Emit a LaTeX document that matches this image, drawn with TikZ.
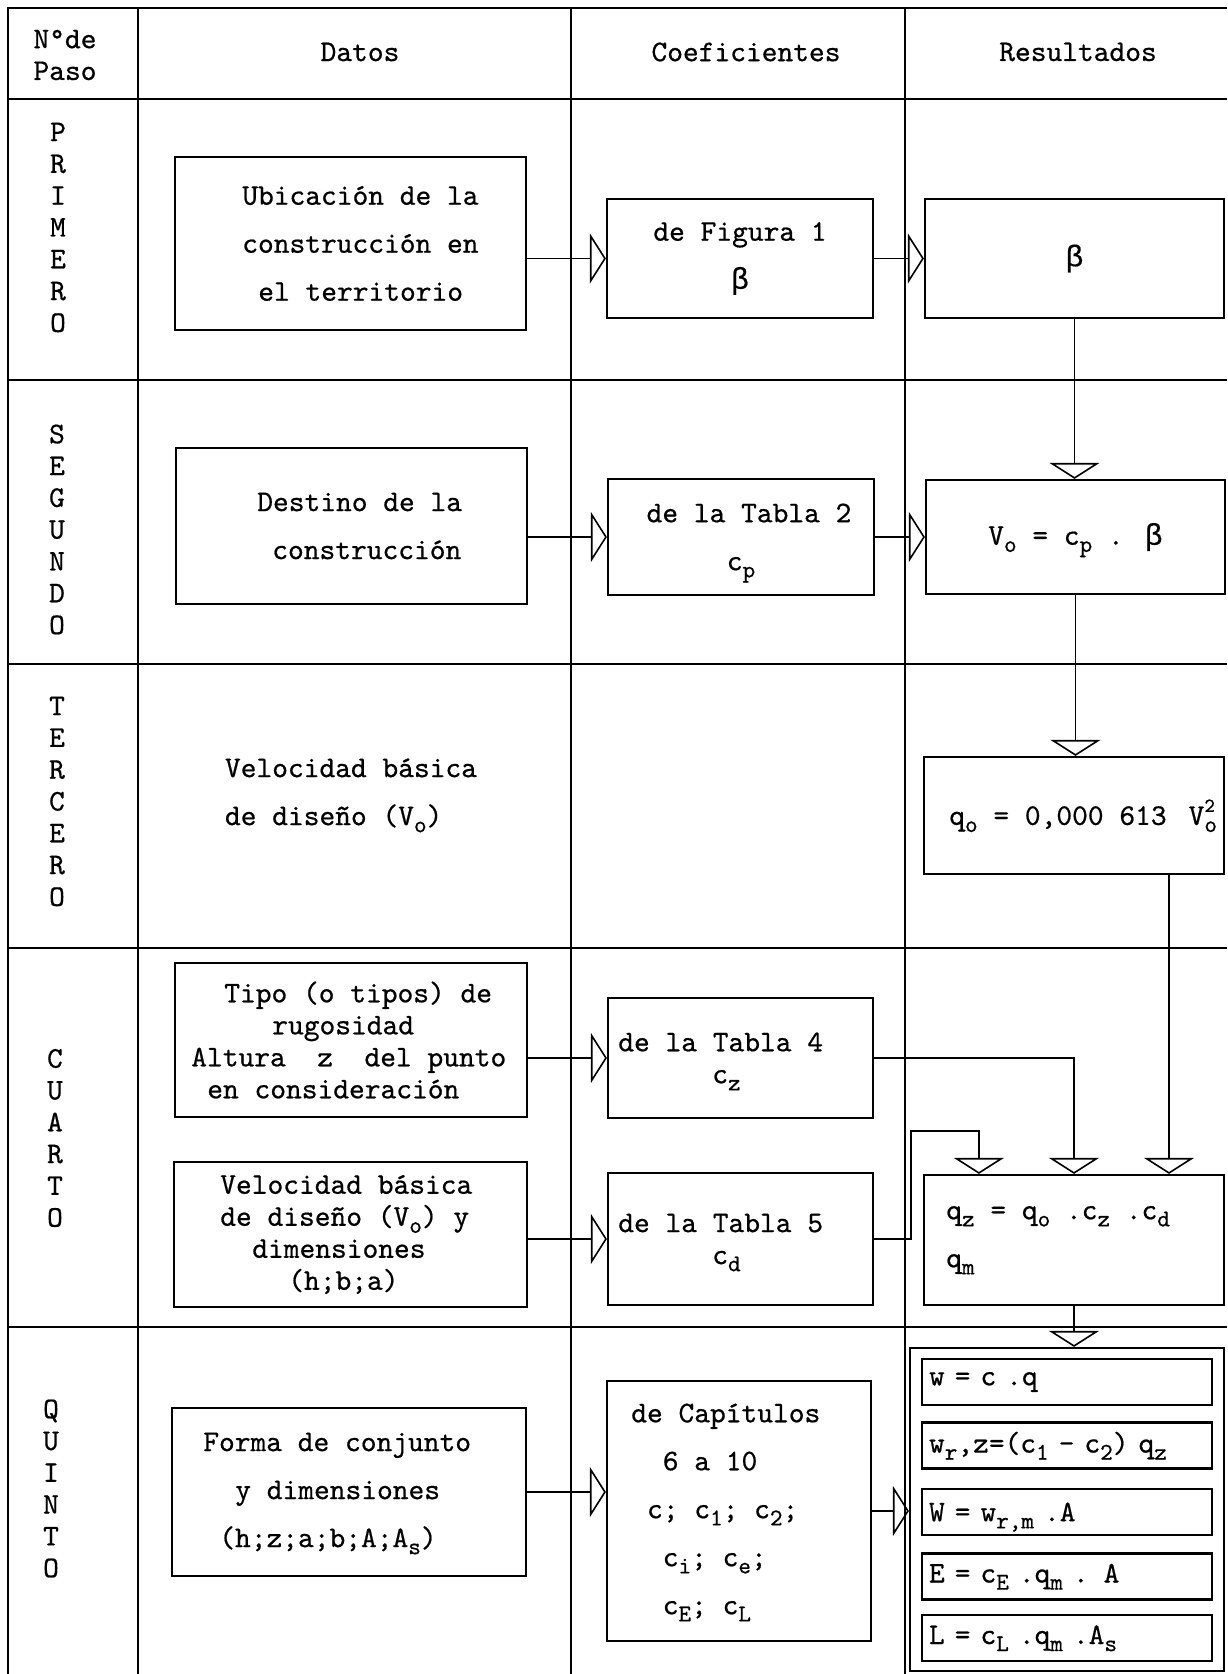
\documentclass[tikz,border=0pt]{standalone}
\usepackage{tikz}
\usepackage{fontspec}
\usetikzlibrary{arrows.meta}
\newfontfamily\twfont{lmmono10-regular.otf}[FakeBold=0.6]
\newfontfamily\greekfont{Liberation Mono}[FakeBold=0.4]
\newcommand{\twsize}[2]{\twfont\fontsize{#1}{#2}\selectfont}
\newcommand{\tsub}[1]{\raisebox{-0.55ex}[0pt][0pt]{\fontsize{12}{12}\selectfont #1}}
\newcommand{\bet}{{\greekfont β}}

\begin{document}
\begin{tikzpicture}[
        font = \twsize{15}{24},
        box/.style = {draw, line width = 1.1pt, inner sep = 0pt, align = center},
        txt/.style = {align = left, anchor = west, inner sep = 0pt},
        dense/.style = {font = \twsize{15}{16}},
        eqbox/.style = {draw, line width = 1.1pt, minimum width = 145pt, minimum height = 23pt,
                        text width = 138pt, inner xsep = 3.5pt, inner ysep = 0pt, align = left},
        steplbl/.style = {align = center, font = \twsize{15}{15.9}},
        grid/.style = {line width = 0.8pt},
        flow/.style = {line width = 0.8pt, -{Triangle[open, length = 8pt, width = 25pt]}}
    ]
        \useasboundingbox (0pt, 0pt) rectangle (613.5pt, -837pt);

        % Table
        \draw [grid] (4pt, -837pt) -- (4pt, -4pt) -- (613.5pt, -4pt);
        \draw [grid] (4pt, -49.5pt) -- (613.5pt, -49.5pt);
        \draw [grid] (4pt, -190pt) -- (613.5pt, -190pt);
        \draw [grid] (4pt, -332pt) -- (613.5pt, -332pt);
        \draw [grid] (4pt, -474pt) -- (613.5pt, -474pt);
        \draw [grid] (4pt, -663.5pt) -- (613.5pt, -663.5pt);
        \draw [grid] (69pt, -4pt) -- (69pt, -837pt);
        \draw [grid] (285.5pt, -4pt) -- (285.5pt, -837pt);
        \draw [grid] (452.5pt, -4pt) -- (452.5pt, -837pt);

        % Header
        \node [steplbl] (hpaso) at (32.5pt, -27.5pt) {N\textdegree{}de\\Paso};
        \node (hdatos) at (180pt, -26pt) {Datos};
        \node (hcoef) at (373pt, -26pt) {Coeficientes};
        \node (hres) at (539pt, -26pt) {Resultados};

        % Steps
        \node [steplbl] (primero) at (29pt, -113.75pt) {P\\R\\I\\M\\E\\R\\O};
        \node [steplbl] (segundo) at (28.5pt, -264.75pt) {S\\E\\G\\U\\N\\D\\O};
        \node [steplbl] (tercero) at (28.5pt, -400.75pt) {T\\E\\R\\C\\E\\R\\O};
        \node [steplbl] (cuarto) at (27.5pt, -569pt) {C\\U\\A\\R\\T\\O};
        \node [steplbl] (quinto) at (25.5pt, -744.25pt) {Q\\U\\I\\N\\T\\O};

        % Primero
        \node [box, minimum width = 175.5pt, minimum height = 86.5pt] (ubic) at (175.25pt, -121.75pt) {};
        \node [txt] (ubictxt) at ([xshift = 34pt] ubic.west) {Ubicación de la\\construcción en\\\hspace*{8pt}el territorio};
        \node [box, minimum width = 133pt, minimum height = 59.5pt] (fig1) at (370pt, -129.25pt) {de Figura 1\\\bet};
        \node [box, minimum width = 149.5pt, minimum height = 59.5pt] (beta) at (537.25pt, -129.25pt) {\bet};

        % Segundo
        \node [box, minimum width = 175.5pt, minimum height = 78pt] (destino) at (175.75pt, -263pt) {};
        \node [txt] (destinotxt) at ([xshift = 41pt] destino.west) {Destino de la\\\hspace*{7.5pt}construcción};
        \node [box, minimum width = 133pt, minimum height = 58pt] (tabla2) at (370.5pt, -268.5pt) {\hspace*{8pt}de la Tabla 2\\c\tsub{p}};
        \node [box, minimum width = 149.5pt, minimum height = 57pt] (vo) at (537.75pt, -268.5pt) {V\tsub{o} = c\tsub{p} . \bet};

        % Tercero
        \node [align = left] (vbasica) at (175.5pt, -396.5pt) {Velocidad básica\\de diseño (V\tsub{o})};
        \node [box, minimum width = 150pt, minimum height = 58.5pt] (qo) at (537pt, -407.75pt) {};
        \node [txt] (qotxt) at ([xshift = 13pt] qo.west) {q\tsub{o} = 0,000 613\hspace{11pt}V\rlap{\raisebox{1ex}{\fontsize{10}{10}\selectfont 2}}\tsub{o}};

        % Cuarto
        \node [box, minimum width = 176pt, minimum height = 77pt] (tipo) at (175.5pt, -520pt) {};
        \node [txt, dense] (tipotxt) at ([xshift = 8.5pt] tipo.west) {\hspace*{16.5pt}Tipo (o tipos) de\\\hspace*{40.5pt}rugosidad\\Altura\hspace{15.75pt}z\hspace{15.75pt}del punto\\\hspace*{8pt}en consideración};
        \node [box, minimum width = 176.5pt, minimum height = 72.5pt] (velo) at (175.25pt, -617.25pt) {};
        \node [txt, dense] (velotxt) at ([xshift = 23.5pt] velo.west) {Velocidad básica\\de diseño (V\tsub{o}) y\\\hspace*{16pt}dimensiones\\\hspace*{34pt}(h;b;a)};
        \node [box, minimum width = 132.5pt, minimum height = 60pt] (tabla4) at (370.25pt, -529pt) {};
        \node [txt, dense] (tabla4txt) at ([xshift = 5.5pt] tabla4.west) {de la Tabla 4\\\hspace*{47pt}c\tsub{z}};
        \node [box, minimum width = 132.5pt, minimum height = 66pt] (tabla5) at (370.25pt, -619.5pt) {};
        \node [txt, dense] (tabla5txt) at ([xshift = 5.5pt] tabla5.west) {de la Tabla 5\\\hspace*{47pt}c\tsub{d}};
        \node [box, minimum width = 150pt, minimum height = 65pt] (qz) at (537pt, -620pt) {};
        \node [txt] (qztxt) at ([xshift = 11.5pt] qz.west) {q\tsub{z} = q\tsub{o} .c\tsub{z} .c\tsub{d}\\q\tsub{m}};

        % Quinto
        \node [box, minimum width = 177pt, minimum height = 84pt] (forma) at (174.5pt, -746pt) {};
        \node [txt] (formatxt) at ([xshift = 16pt] forma.west) {Forma de conjunto\\\hspace*{16pt}y dimensiones\\\hspace*{8pt}(h;z;a;b;A;A\tsub{s})};
        \node [box, minimum width = 132pt, minimum height = 130pt] (capit) at (369.5pt, -755.5pt) {};
        \node [txt] (capittxt) at ([xshift = 12.5pt] capit.west) {de Capítulos\\\hspace*{15.75pt}6 a 10\\\hspace*{7.9pt}c; c\tsub{1}; c\tsub{2};\\\hspace*{15.75pt}c\tsub{i}; c\tsub{e};\\\hspace*{15.75pt}c\tsub{E}; c\tsub{L}};
        \node [box, minimum width = 157pt, minimum height = 161.5pt] (res5) at (533.5pt, -754.75pt) {};
        \node [eqbox] (w1) at (533.5pt, -691pt) {w = c .q};
        \node [eqbox] (w2) at (533.5pt, -722.75pt) {w\tsub{r},z=(c\tsub{1} - c\tsub{2}) q\tsub{z}};
        \node [eqbox] (w3) at (533.5pt, -756pt) {W = w\tsub{r,m} .A};
        \node [eqbox] (w4) at (533.5pt, -788.25pt) {E = c\tsub{E} .q\tsub{m} . A};
        \node [eqbox] (w5) at (533.5pt, -819pt) {L = c\tsub{L} .q\tsub{m} .A\tsub{s}};

        % Lines
        \draw [flow] (ubic.east |- fig1.west) -- (fig1.west);
        \draw [flow] (fig1) -- (beta);
        \draw [flow] (beta.south) -- (beta.south |- vo.north);
        \draw [flow] (destino.east |- tabla2.west) -- (tabla2.west);
        \draw [flow] (tabla2) -- (vo);
        \draw [flow] (vo.south) -- (vo.south |- qo.north);
        \draw [flow] (tipo.east |- tabla4.west) -- (tabla4.west);
        \draw [flow] (velo.east |- tabla5.west) -- (tabla5.west);
        \draw [flow] (tabla4.east) -| (qz.north);
        \draw [flow] (tabla5.east) -- ++(18.5pt, 0pt) |- ([xshift = 28pt, yshift = 21.5pt] qz.north west) -- ([xshift = 28pt] qz.north west);
        \draw [flow] ([xshift = 47.5pt] qo.south) -- ([xshift = 47.5pt] qo.south |- qz.north);
        \draw [flow] (qz.south) -- (qz.south |- res5.north);
        \draw [flow] (forma.east) -- (forma.east -| capit.west);
        \draw [flow] (capit.east) -- (capit.east -| res5.west);

    \end{tikzpicture}
\end{document}
